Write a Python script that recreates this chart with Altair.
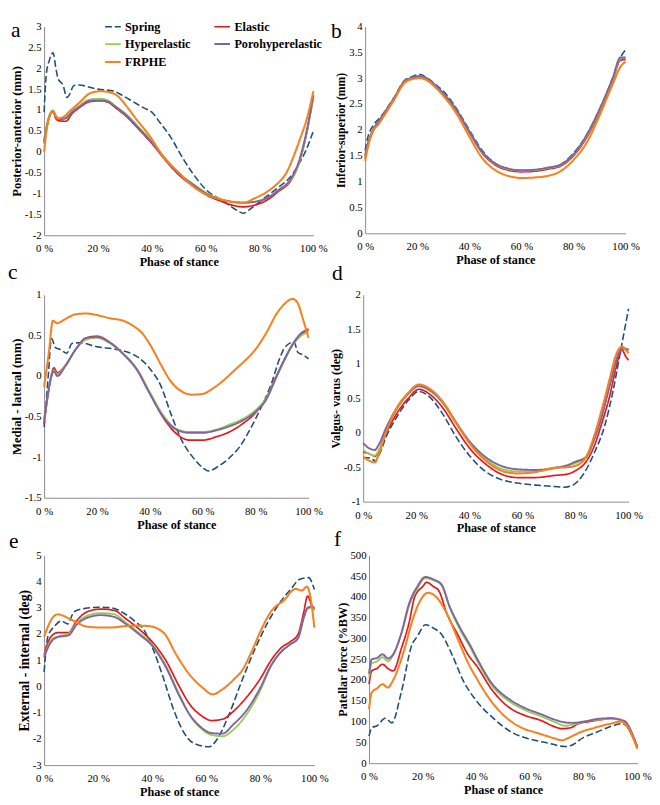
import altair as alt
import pandas as pd

SERIES = ["Spring", "Elastic", "Hyperelastic", "Porohyperelastic", "FRPHE"]
COLORS = ["#1f4e79", "#e8161b", "#92cf50", "#8064a2", "#f5821f"]
DASHES = [[7, 3], [1, 0], [1, 0], [1, 0], [1, 0]]
WIDTHS = [1.6, 2.1, 2.1, 2.1, 2.1]
X_TICKS = [0, 20, 40, 60, 80, 100]
FONT = "Liberation Serif"

# ---------------- panel a : Posterior-anterior (mm)
A_X_SPRING = [0, 0.8, 2, 3.3, 4.5, 5.2, 7, 8.5, 9.5, 11, 13, 16.5, 20, 26, 29, 33, 37, 40, 43, 47, 51, 55, 60, 67, 71.5, 74, 77, 82, 87, 91.5, 95, 97, 100]
A_Y_SPRING = [0.95, 1.85, 2.2, 2.37, 1.95, 1.75, 1.6, 1.3, 1.38, 1.58, 1.6, 1.55, 1.5, 1.45, 1.35, 1.2, 1.05, 0.95, 0.7, 0.35, -0.1, -0.5, -0.9, -1.2, -1.4, -1.47, -1.35, -1.1, -0.85, -0.6, -0.25, 0.0, 0.5]
A_X_MODEL = [0, 1, 2, 3.3, 4.5, 6, 8, 10.5, 13, 17, 21, 24, 26, 30.5, 35, 40, 45, 50, 56, 60.7, 65.5, 70, 74, 78, 83, 87, 91.5, 94.5, 97, 100]
A_Y_ELASTIC = [0.25, 0.6, 0.85, 0.97, 0.78, 0.74, 0.73, 0.92, 1.05, 1.2, 1.22, 1.18, 1.08, 0.85, 0.55, 0.2, -0.2, -0.55, -0.85, -1.05, -1.18, -1.28, -1.32, -1.28, -1.15, -0.95, -0.7, -0.3, 0.3, 1.35]
A_Y_HYPER = [0.3, 0.65, 0.88, 0.99, 0.85, 0.8, 0.83, 0.98, 1.1, 1.25, 1.27, 1.22, 1.12, 0.9, 0.6, 0.25, -0.15, -0.5, -0.8, -1.0, -1.13, -1.2, -1.22, -1.2, -1.1, -0.92, -0.68, -0.3, 0.3, 1.3]
A_Y_PORO = [0.2, 0.6, 0.85, 0.97, 0.82, 0.78, 0.8, 0.95, 1.07, 1.22, 1.23, 1.19, 1.1, 0.87, 0.57, 0.22, -0.18, -0.52, -0.82, -1.02, -1.14, -1.2, -1.22, -1.2, -1.1, -0.92, -0.66, -0.25, 0.35, 1.35]
A_X_FRPHE = [0, 1, 2, 3.3, 5, 7, 10, 13.5, 17, 21, 24.5, 27, 30.5, 34, 39.5, 44, 50, 54.7, 59.5, 65, 70, 74, 78, 83, 86, 90, 93.3, 95, 97.6, 100]
A_Y_FRPHE = [0.0, 0.55, 0.85, 0.97, 0.8, 0.83, 1.0, 1.2, 1.4, 1.45, 1.42, 1.35, 1.1, 0.8, 0.35, -0.1, -0.5, -0.8, -1.0, -1.13, -1.2, -1.22, -1.12, -0.95, -0.8, -0.5, 0.0, 0.3, 0.8, 1.45]

# ---------------- panel b : Inferior-superior (mm)
B_X = [0, 1, 3, 5, 7, 11, 15, 18, 21, 24, 27, 30, 35, 40, 45, 50, 55, 60, 65, 70, 75, 80, 85, 90, 95, 98, 100]
B_Y_SPRING = [1.6, 1.85, 2.08, 2.2, 2.32, 2.62, 2.95, 3.03, 3.07, 3.0, 2.88, 2.75, 2.42, 2.0, 1.6, 1.35, 1.25, 1.21, 1.22, 1.26, 1.33, 1.55, 1.9, 2.4, 3.0, 3.4, 3.55]
B_Y_ELASTIC = [1.45, 1.7, 1.98, 2.13, 2.28, 2.6, 2.93, 3.0, 3.03, 2.98, 2.85, 2.7, 2.38, 1.95, 1.55, 1.32, 1.22, 1.19, 1.2, 1.24, 1.3, 1.5, 1.85, 2.35, 2.95, 3.35, 3.36]
B_Y_HYPER = [1.5, 1.72, 2.0, 2.15, 2.3, 2.6, 2.93, 3.01, 3.04, 2.99, 2.86, 2.71, 2.39, 1.97, 1.57, 1.34, 1.24, 1.21, 1.22, 1.26, 1.32, 1.52, 1.88, 2.38, 2.98, 3.38, 3.4]
B_Y_PORO = [1.5, 1.72, 2.0, 2.15, 2.3, 2.6, 2.93, 3.01, 3.04, 2.99, 2.86, 2.71, 2.39, 1.97, 1.57, 1.35, 1.25, 1.22, 1.23, 1.27, 1.33, 1.53, 1.9, 2.4, 3.0, 3.4, 3.4]
B_Y_FRPHE = [1.4, 1.65, 1.97, 2.1, 2.25, 2.57, 2.9, 2.98, 3.0, 2.95, 2.82, 2.66, 2.32, 1.87, 1.45, 1.22, 1.11, 1.07, 1.08, 1.11, 1.2, 1.42, 1.75, 2.28, 2.88, 3.22, 3.32]

# ---------------- panel c : Medial - lateral (mm)
C_X_SPRING = [0, 1.5, 2.8, 4.3, 6, 8.6, 10.5, 13.5, 20, 27, 32, 36, 40, 44, 48, 52, 56, 60, 62, 66, 70, 74, 78, 82, 86, 89, 91, 94.5, 96, 98, 100]
C_Y_SPRING = [-0.63, -0.03, 0.46, 0.35, 0.33, 0.28, 0.4, 0.41, 0.36, 0.33, 0.29, 0.22, 0.09, -0.11, -0.47, -0.79, -0.99, -1.13, -1.17, -1.11, -1.01, -0.87, -0.65, -0.39, -0.09, 0.21, 0.35, 0.42, 0.29, 0.26, 0.21]
C_X_MODEL = [0, 1.5, 2.5, 3.7, 5, 8, 12, 16, 20, 25, 30, 35, 40, 45, 50, 55, 60, 65, 70, 75, 80, 84, 88, 91, 94, 97, 100]
C_Y_ELASTIC = [-0.59, -0.23, -0.03, 0.1, 0.04, 0.13, 0.33, 0.47, 0.49, 0.41, 0.27, 0.09, -0.21, -0.51, -0.71, -0.79, -0.79, -0.75, -0.69, -0.59, -0.45, -0.27, 0.01, 0.21, 0.39, 0.51, 0.57]
C_Y_HYPER = [-0.55, -0.2, -0.02, 0.07, 0.02, 0.13, 0.33, 0.45, 0.47, 0.4, 0.27, 0.09, -0.2, -0.48, -0.65, -0.69, -0.69, -0.66, -0.6, -0.53, -0.42, -0.27, 0.0, 0.2, 0.38, 0.49, 0.54]
C_Y_PORO = [-0.55, -0.21, -0.04, 0.06, 0.0, 0.12, 0.33, 0.47, 0.48, 0.41, 0.27, 0.08, -0.22, -0.5, -0.66, -0.7, -0.7, -0.67, -0.62, -0.55, -0.44, -0.29, 0.0, 0.21, 0.39, 0.52, 0.58]
C_X_FRPHE = [0, 1.8, 3.3, 5, 7.4, 12, 16, 20, 25, 30, 34, 37, 40, 44, 48, 52, 56, 60, 64, 68, 72, 76, 80, 84, 88, 91, 94, 96, 98, 100]
C_Y_FRPHE = [-0.13, 0.29, 0.68, 0.65, 0.69, 0.76, 0.77, 0.75, 0.71, 0.68, 0.61, 0.53, 0.39, 0.15, -0.07, -0.19, -0.23, -0.22, -0.15, -0.05, 0.07, 0.19, 0.33, 0.53, 0.77, 0.89, 0.95, 0.89, 0.69, 0.47]

# ---------------- panel d : Valgus- varus (deg)
D_X_SPRING = [0, 3, 4.5, 5.5, 9, 13, 17, 21, 25, 30, 35, 40, 46, 52, 58, 65, 72, 76, 79, 83, 87, 91, 94, 97, 100]
D_Y_SPRING = [-0.36, -0.37, -0.41, -0.36, -0.03, 0.25, 0.47, 0.6, 0.52, 0.27, -0.06, -0.33, -0.56, -0.68, -0.73, -0.76, -0.78, -0.79, -0.76, -0.6, -0.3, 0.1, 0.58, 1.19, 1.8]
D_X_MODEL = [0, 2, 4.5, 5.5, 9, 13, 17, 21, 25, 30, 35, 40, 46, 52, 58, 65, 72, 77, 80, 84, 87, 90, 93, 95, 97.5, 99, 100]
D_Y_ELASTIC = [-0.28, -0.3, -0.34, -0.3, 0.02, 0.3, 0.5, 0.63, 0.56, 0.36, 0.06, -0.22, -0.45, -0.6, -0.65, -0.65, -0.62, -0.6, -0.55, -0.42, -0.2, 0.15, 0.55, 0.9, 1.2, 1.1, 1.05]
D_Y_HYPER = [-0.25, -0.3, -0.33, -0.28, 0.07, 0.36, 0.56, 0.67, 0.61, 0.43, 0.13, -0.14, -0.38, -0.52, -0.56, -0.56, -0.52, -0.48, -0.44, -0.36, -0.1, 0.28, 0.72, 1.02, 1.22, 1.2, 1.18]
D_Y_PORO = [-0.15, -0.22, -0.25, -0.2, 0.1, 0.38, 0.57, 0.68, 0.62, 0.44, 0.15, -0.12, -0.35, -0.48, -0.53, -0.54, -0.51, -0.47, -0.42, -0.35, -0.1, 0.25, 0.7, 1.0, 1.22, 1.22, 1.2]
D_Y_FRPHE = [-0.35, -0.4, -0.43, -0.35, 0.05, 0.38, 0.58, 0.7, 0.64, 0.45, 0.15, -0.15, -0.4, -0.55, -0.59, -0.57, -0.51, -0.5, -0.48, -0.35, -0.05, 0.35, 0.8, 1.1, 1.25, 1.2, 1.15]

# ---------------- panel e : External - internal (deg)
E_X_SPRING = [0, 1.4, 3.9, 6.4, 8.7, 11.1, 15.3, 20.1, 24.9, 28.6, 33.4, 37, 40, 44.2, 47.8, 51.4, 55.1, 61.1, 64.1, 68.3, 73.1, 77.9, 82.8, 87.6, 91.2, 94.8, 97.8, 100]
E_Y_SPRING = [0.55, 1.9, 2.3, 2.5, 2.38, 2.85, 2.98, 3.02, 3.0, 2.85, 2.5, 2.15, 1.5, 0.3, -0.85, -1.7, -2.15, -2.3, -2.0, -1.1, 0.2, 1.4, 2.45, 3.25, 3.7, 4.1, 4.15, 3.7]
E_X_MODEL = [0, 1.5, 3, 5, 9, 12, 16, 21, 26, 30, 35, 40, 45, 50, 54, 58, 62, 66, 70, 75, 80, 84, 88, 91, 94, 96, 97.5, 99, 100]
E_Y_ELASTIC = [1.2, 1.7, 1.95, 2.05, 2.05, 2.5, 2.85, 2.95, 2.9, 2.6, 2.2, 1.7, 1.0, 0.0, -0.7, -1.1, -1.3, -1.25, -0.95, -0.4, 0.3, 1.0, 1.5, 1.7, 2.0, 2.8, 3.45, 3.1, 2.95]
E_Y_HYPER = [1.15, 1.55, 1.8, 1.9, 2.0, 2.4, 2.7, 2.8, 2.75, 2.45, 2.05, 1.6, 0.8, -0.3, -1.1, -1.6, -1.85, -1.9, -1.65, -1.05, -0.15, 0.8, 1.35, 1.6, 1.85, 2.6, 2.95, 3.0, 2.9]
E_Y_PORO = [1.1, 1.5, 1.75, 1.88, 1.95, 2.35, 2.62, 2.72, 2.65, 2.4, 2.0, 1.55, 0.75, -0.35, -1.1, -1.55, -1.78, -1.8, -1.45, -0.9, -0.05, 0.8, 1.35, 1.6, 1.85, 2.6, 3.0, 3.05, 3.0]
E_X_FRPHE = [0, 1.5, 3, 5, 7, 9, 12, 15, 20, 25, 30, 35, 38.8, 44.2, 49, 53.9, 58.7, 62.3, 66, 70.7, 73, 76.7, 80.4, 84, 88.8, 93, 95.4, 97.2, 98.4, 100]
E_Y_FRPHE = [1.9, 2.3, 2.6, 2.75, 2.7, 2.6, 2.45, 2.3, 2.25, 2.25, 2.3, 2.32, 2.3, 2.05, 1.19, 0.44, -0.05, -0.3, -0.11, 0.32, 0.57, 1.31, 2.18, 2.86, 3.29, 3.72, 3.66, 3.81, 3.48, 2.24]

# ---------------- panel f : Patellar force (%BW)
F_X_SPRING = [0, 1, 3, 6, 8.5, 12, 16, 18, 21, 24, 27, 31, 35, 40, 46, 53, 60, 67, 73, 75, 80, 85, 90, 94, 96, 100]
F_Y_SPRING = [65, 85, 90, 108, 97, 170, 285, 305, 333, 325, 310, 260, 200, 150, 110, 75, 58, 48, 40, 42, 62, 75, 88, 95, 90, 40]
F_X_ELASTIC = [0, 1, 3, 5, 7, 9, 12, 15, 17, 20, 21.5, 24, 26, 29, 33, 37, 40, 46, 52, 58, 64, 69, 72, 75, 78, 82, 87, 90, 94, 95, 100]
F_Y_ELASTIC = [190, 222, 228, 238, 228, 222, 275, 340, 400, 425, 435, 425, 415, 360, 310, 260, 235, 175, 135, 115, 103, 88, 83, 85, 95, 100, 105, 108, 103, 98, 38]
F_X_MODEL = [0, 1, 3, 5, 7, 9, 12, 15, 18, 21, 24, 27, 30, 34, 38, 40, 46, 52, 58, 64, 70, 73, 76, 80, 86, 90, 95, 100]
F_Y_HYPER = [205, 240, 245, 255, 245, 260, 310, 380, 420, 445, 440, 428, 375, 320, 275, 250, 185, 150, 128, 113, 97, 90, 93, 100, 105, 107, 100, 35]
F_Y_PORO = [215, 250, 253, 262, 252, 262, 312, 385, 425, 448, 442, 430, 378, 325, 280, 255, 190, 155, 133, 118, 103, 98, 97, 100, 107, 108, 102, 38]
F_X_FRPHE = [0, 1, 3, 5, 7, 9, 13, 16, 19, 22, 25, 29, 33, 37, 40, 46, 52, 58, 62, 69, 72, 74, 79, 84, 90, 94, 96, 100]
F_Y_FRPHE = [130, 170, 180, 190, 182, 200, 270, 340, 390, 410, 400, 360, 300, 240, 205, 145, 105, 82, 74, 60, 55, 60, 75, 85, 95, 100, 90, 35]


def make_df(series_list):
    rows = []
    for name, xs, ys in series_list:
        for xv, yv in zip(xs, ys):
            rows.append({"series": name, "x": xv, "y": yv})
    return pd.DataFrame(rows)


def panel(letter, series_list, ydom, yticks, ytitle, w, h, ytitle_size, lx, ly, legend=False):
    df = make_df(series_list)
    if legend:
        leg = alt.Legend(title=None, orient="none", legendX=61, legendY=-9, columns=2,
                         direction="horizontal", gridAlign="each",
                         columnPadding=19, rowPadding=2, labelFont=FONT, labelFontSize=12.5,
                         labelFontWeight="bold", labelColor="black", symbolType="stroke",
                         symbolSize=256, symbolStrokeWidth=2, labelOffset=3, padding=0)
    else:
        leg = None
    base = alt.Chart(df).mark_line(interpolate="monotone").encode(
        x=alt.X("x:Q", scale=alt.Scale(domain=[0, 100], nice=False, zero=False),
                axis=alt.Axis(values=X_TICKS, labelExpr="datum.value + ' %'", title="Phase of stance",
                              labelFlush=False, labelPadding=8, titlePadding=2, titleFontSize=12.5,
                              labelFont=FONT, titleFont=FONT)),
        y=alt.Y("y:Q", scale=alt.Scale(domain=ydom, nice=False, zero=False),
                axis=alt.Axis(values=yticks, labelExpr="'' + datum.value", title=ytitle,
                              titleFontSize=ytitle_size, labelPadding=3, titlePadding=1,
                              labelFont=FONT, titleFont=FONT)),
        color=alt.Color("series:N", scale=alt.Scale(domain=SERIES, range=COLORS), legend=leg),
        strokeDash=alt.StrokeDash("series:N", scale=alt.Scale(domain=SERIES, range=DASHES), legend=leg),
        strokeWidth=alt.StrokeWidth("series:N", scale=alt.Scale(domain=SERIES, range=WIDTHS), legend=None),
    )
    layers = [base.transform_filter(alt.datum.series == s) for s in SERIES]
    txt = alt.Chart(pd.DataFrame({"t": [letter]})).mark_text(
        font=FONT, fontSize=22, align="left", baseline="top", color="black"
    ).encode(x=alt.value(lx), y=alt.value(ly), text="t:N")
    return alt.layer(*layers, txt).properties(width=w, height=h)


def ticks(lo, hi, step):
    n = int(round((hi - lo) / step))
    return [round(lo + i * step, 4) for i in range(n + 1)]


pa = panel("a", [("Spring", A_X_SPRING, A_Y_SPRING), ("Elastic", A_X_MODEL, A_Y_ELASTIC),
                 ("Hyperelastic", A_X_MODEL, A_Y_HYPER), ("Porohyperelastic", A_X_MODEL, A_Y_PORO),
                 ("FRPHE", A_X_FRPHE, A_Y_FRPHE)],
           [-2, 3], ticks(-2, 3, 0.5), "Posterior-anterior (mm)", 276, 214, 13, -34, -6, legend=True)
pb = panel("b", [("Spring", B_X, B_Y_SPRING), ("Elastic", B_X, B_Y_ELASTIC),
                 ("Hyperelastic", B_X, B_Y_HYPER), ("Porohyperelastic", B_X, B_Y_PORO),
                 ("FRPHE", B_X, B_Y_FRPHE)],
           [0, 4], ticks(0, 4, 0.5), "Inferior-superior (mm)", 267, 212, 12, -35, -5)
pc = panel("c", [("Spring", C_X_SPRING, C_Y_SPRING), ("Elastic", C_X_MODEL, C_Y_ELASTIC),
                 ("Hyperelastic", C_X_MODEL, C_Y_HYPER), ("Porohyperelastic", C_X_MODEL, C_Y_PORO),
                 ("FRPHE", C_X_FRPHE, C_Y_FRPHE)],
           [-1.5, 1], ticks(-1.5, 1, 0.5), "Medial - lateral (mm)", 271, 208, 13, -37, -33)
pd_ = panel("d", [("Spring", D_X_SPRING, D_Y_SPRING), ("Elastic", D_X_MODEL, D_Y_ELASTIC),
                  ("Hyperelastic", D_X_MODEL, D_Y_HYPER), ("Porohyperelastic", D_X_MODEL, D_Y_PORO),
                  ("FRPHE", D_X_MODEL, D_Y_FRPHE)],
            [-1, 2], ticks(-1, 2, 0.5), "Valgus- varus (deg)", 272, 212, 12.4, -32, -32)
pe = panel("e", [("Spring", E_X_SPRING, E_Y_SPRING), ("Elastic", E_X_MODEL, E_Y_ELASTIC),
                 ("Hyperelastic", E_X_MODEL, E_Y_HYPER), ("Porohyperelastic", E_X_MODEL, E_Y_PORO),
                 ("FRPHE", E_X_FRPHE, E_Y_FRPHE)],
           [-3, 5], ticks(-3, 5, 1), "External - internal (deg)", 277, 215, 14, -36, -25)
pf = panel("f", [("Spring", F_X_SPRING, F_Y_SPRING), ("Elastic", F_X_ELASTIC, F_Y_ELASTIC),
                 ("Hyperelastic", F_X_MODEL, F_Y_HYPER), ("Porohyperelastic", F_X_MODEL, F_Y_PORO),
                 ("FRPHE", F_X_FRPHE, F_Y_FRPHE)],
           [0, 500], ticks(0, 500, 50), "Patellar force (%BW)", 275, 213, 12.5, -36, -27)

RES = dict(color="independent", strokeDash="independent", strokeWidth="independent")


def row(left, right, sp):
    return alt.hconcat(left, right, spacing=sp).resolve_scale(**RES).resolve_legend(
        color="independent", strokeDash="independent")


chart = alt.vconcat(
    row(pa, pb, 3), row(pc, pd_, 6), row(pe, pf, 5), spacing=-7
).resolve_scale(**RES).resolve_legend(
    color="independent", strokeDash="independent"
).configure_view(stroke=None).configure_axis(
    domainColor="#8a8a8a", domainWidth=1, ticks=False, grid=False,
    labelFont=FONT, labelFontSize=11, labelColor="black",
    titleFont=FONT, titleFontWeight="bold", titleColor="black"
).properties(padding=0)

chart.save("out.html", embed_options={"renderer": "svg", "actions": False})
